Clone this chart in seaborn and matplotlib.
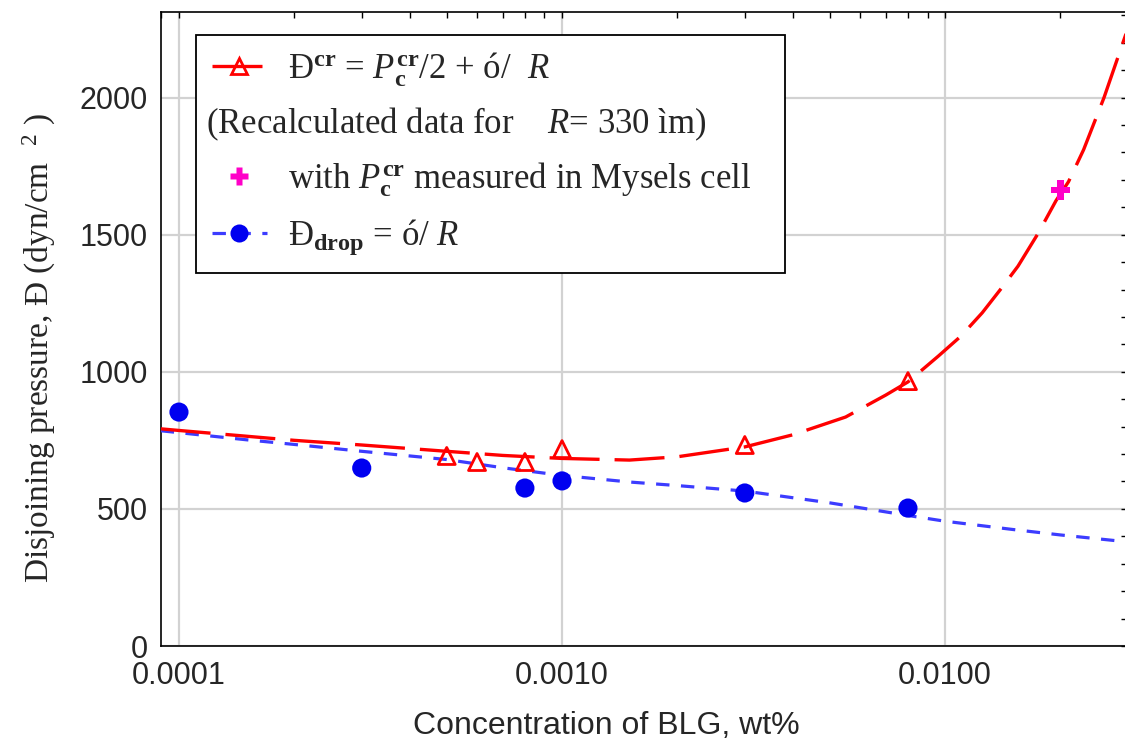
import numpy as np
import pandas as pd
import matplotlib
matplotlib.use("Agg")
import matplotlib.pyplot as plt
from matplotlib.lines import Line2D
from matplotlib.ticker import FixedLocator, LogLocator, FuncFormatter, MultipleLocator
import seaborn as sns

# ---------------- data ----------------
# Pi_drop = sigma/R (filled blue circles)
conc_drop = [0.0001, 0.0003, 0.0008, 0.0010, 0.0030, 0.0080]
p_drop = [853, 649, 576, 602, 558, 503]

# Pi_cr = Pc_cr/2 + sigma/R (open red triangles)
conc_cr = [0.0005, 0.0006, 0.0008, 0.0010, 0.0030, 0.0080]
p_cr = [693, 671, 671, 718, 733, 966]

# Mysels cell (magenta plus)
conc_mysels = [0.020]
p_mysels = [1663]

# fitted curves
curve_cr_x = [0.0000896, 0.0001, 0.00015, 0.0002, 0.0003, 0.0005, 0.0007, 0.0010,
              0.0015, 0.0020, 0.0030, 0.0040, 0.0055, 0.0070, 0.0080, 0.0096,
              0.0110, 0.0125, 0.0140, 0.0155, 0.0175, 0.0195, 0.0210, 0.0230,
              0.0260, 0.0298]
curve_cr_y = [792, 786, 765, 750, 733, 710, 695, 684,
              678, 690, 726, 770, 835, 915, 963, 1057,
              1130, 1215, 1303, 1385, 1505, 1625, 1693, 1810,
              2000, 2240]
curve_drop_x = [0.0000896, 0.0001, 0.00015, 0.0002, 0.0003, 0.0005, 0.0007, 0.0010,
                0.0015, 0.0020, 0.0030, 0.0050, 0.0080, 0.0100, 0.0150, 0.0200, 0.0298]
curve_drop_y = [785, 778, 752, 735, 710, 680, 650, 622,
                598, 585, 565, 522, 476, 455, 425, 405, 380]

xticks = [0.0001, 0.001, 0.01]
xtick_labels = ["0.0001", "0.0010", "0.0100"]
yticks = [0, 500, 1000, 1500, 2000]

# ---------------- style ----------------
sns.set_style("white")
plt.rcParams["font.family"] = ["Liberation Sans", "DejaVu Sans"]
plt.rcParams["mathtext.fontset"] = "custom"
plt.rcParams["mathtext.rm"] = "Liberation Serif"
plt.rcParams["mathtext.it"] = "Liberation Serif:italic"
plt.rcParams["mathtext.bf"] = "Liberation Serif:bold"

RED = "#ff0000"
BLUE_LINE = "#3c3cff"
BLUE = "#0000f0"
MAGENTA = "#ff00c8"
GRID = "#d2d2d2"

W, H = 1125, 744
fig = plt.figure(figsize=(W / 100, H / 100), dpi=100)
left, right, top, bottom = 160.7, 1127, 12, 646
ax = fig.add_axes([left / W, (H - bottom) / H, (right - left) / W, (bottom - top) / H])

df_cr_curve = pd.DataFrame({"x": curve_cr_x, "y": curve_cr_y})
df_drop_curve = pd.DataFrame({"x": curve_drop_x, "y": curve_drop_y})
df_drop = pd.DataFrame({"x": conc_drop, "y": p_drop})
df_cr = pd.DataFrame({"x": conc_cr, "y": p_cr})
df_my = pd.DataFrame({"x": conc_mysels, "y": p_mysels})

sns.lineplot(data=df_drop_curve, x="x", y="y", ax=ax, color=BLUE_LINE, lw=2.3,
             estimator=None, sort=True, zorder=3)
ax.lines[-1].set_dashes((4.2, 3.6))
sns.lineplot(data=df_cr_curve, x="x", y="y", ax=ax, color=RED, lw=2.4,
             estimator=None, sort=True, zorder=4)
ax.lines[-1].set_dashes((15, 4.5))

sns.scatterplot(data=df_drop, x="x", y="y", ax=ax, color=BLUE, s=190,
                marker="o", edgecolor="none", zorder=5)
sns.scatterplot(data=df_cr, x="x", y="y", ax=ax, s=150, marker="^",
                facecolor="none", edgecolor=RED, linewidth=2.0, zorder=6)
sns.scatterplot(data=df_my, x="x", y="y", ax=ax, color=MAGENTA, s=190,
                marker="P", edgecolor="none", zorder=6)

ax.set_xscale("log")
ax.set_xlim(0.0000896, 0.02985)
ax.set_ylim(0, 2312)

ax.xaxis.set_major_locator(FixedLocator(xticks))
ax.xaxis.set_major_formatter(FuncFormatter(
    lambda v, p: xtick_labels[xticks.index(v)] if v in xticks else ""))
ax.xaxis.set_minor_locator(LogLocator(base=10, subs=np.arange(2, 10)))
ax.xaxis.set_minor_formatter(FuncFormatter(lambda v, p: ""))
ax.yaxis.set_major_locator(FixedLocator(yticks))
ax.yaxis.set_minor_locator(MultipleLocator(100))

ax.grid(True, which="major", color=GRID, lw=1.6, zorder=0)
ax.set_axisbelow(True)

for s in ax.spines.values():
    s.set_visible(True)
    s.set_color("black")
    s.set_linewidth(1.2)

ax.tick_params(which="both", direction="in", top=True, right=True,
               length=4.5, width=1.0, color="black")
ax.tick_params(axis="x", which="major", labelsize=22, pad=11)
ax.tick_params(axis="y", which="major", labelsize=22, pad=9.5)

ax.set_xlabel("Concentration of BLG, wt%", fontsize=23)
ax.xaxis.set_label_coords((606 - left) / (right - left), -(711 - bottom) / (bottom - top))
ax.set_ylabel("Disjoining pressure, Đ (dyn/cm  $^{2}$ )", fontsize=24,
              family="Liberation Serif")
ax.yaxis.set_label_coords(-(left - 58) / (right - left), 0.47)

# ---------------- legend ----------------
handles = [
    Line2D([], [], color=RED, lw=2.4, dashes=(15, 4.5), marker="^", markersize=11,
           markerfacecolor="none", markeredgecolor=RED, markeredgewidth=2.0),
    Line2D([], [], ls="none"),
    Line2D([], [], ls="none", marker="P", markersize=13, color=MAGENTA,
           markeredgecolor="none"),
    Line2D([], [], color=BLUE_LINE, lw=2.3, dashes=(4.2, 3.6), marker="o",
           markersize=13, markerfacecolor=BLUE, markeredgecolor="none"),
]
labels = [
    r"Đ$^{\mathbf{cr}}$ = $P_{\mathbf{c}}^{\mathbf{cr}}$/2 + ó/  $R$",
    " ",
    r"with $P_{\mathbf{c}}^{\mathbf{cr}}$ measured in Mysels cell   ",
    r"Đ$_{\mathbf{drop}}$ = ó/ $R$",
]
leg = ax.legend(handles, labels, loc="upper left",
                bbox_to_anchor=((196 - left) / (right - left), (bottom - 35) / (bottom - top)),
                borderaxespad=0, frameon=True, fancybox=False, framealpha=1,
                edgecolor="black", prop={"family": "Liberation Serif", "size": 25},
                handlelength=1.6, handletextpad=0.6, labelspacing=0.55,
                borderpad=0.45)
leg.get_frame().set_linewidth(1.3)
leg.set_zorder(10)

fig.canvas.draw()
t2 = leg.get_texts()[1]
bb = t2.get_window_extent()
fr = leg.get_frame().get_window_extent()
inv = ax.transAxes.inverted()
px, py = inv.transform((fr.x0 + 10, (bb.y0 + bb.y1) / 2))
ax.text(px, py, r"(Recalculated data for    $R$= 330 ìm)", transform=ax.transAxes,
        family="Liberation Serif", fontsize=25, va="center", ha="left", zorder=11)

fig.savefig("out.png", dpi=100)
